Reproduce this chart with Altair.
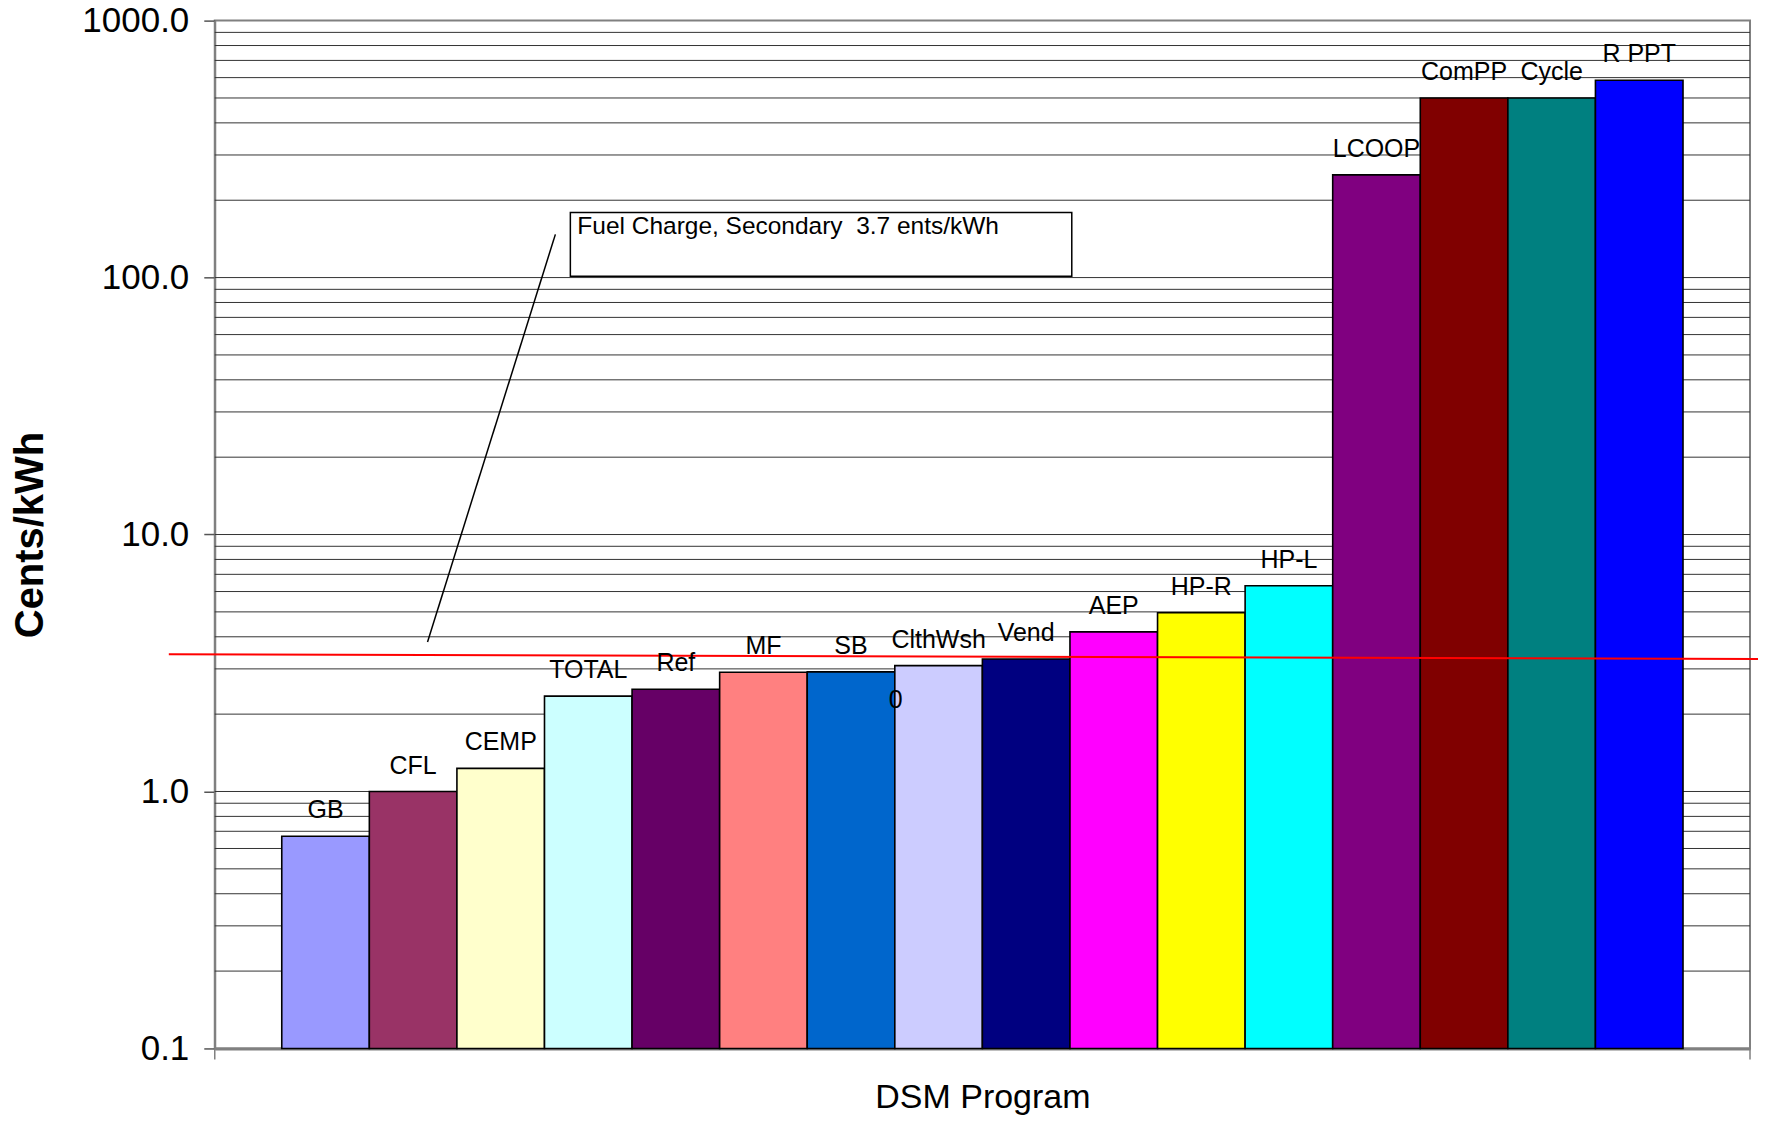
import altair as alt
import pandas as pd

# ---- data ----
programs = ["GB", "CFL", "CEMP", "TOTAL", "Ref", "MF", "SB", "ClthWsh", "Vend",
            "AEP", "HP-R", "HP-L", "LCOOP", "ComPP", "Cycle", "R PPT"]
values = [0.67, 1.0, 1.23, 2.35, 2.50, 2.91, 2.92, 3.09, 3.28,
          4.18, 4.96, 6.32, 251.0, 500.0, 500.0, 586.0]
colors = ["#9999FF", "#993366", "#FFFFCC", "#CCFFFF", "#660066", "#FF8080",
          "#0066CC", "#CCCCFF", "#000080", "#FF00FF", "#FFFF00", "#00FFFF",
          "#800080", "#800000", "#008080", "#0000FF"]

decade_ticks = [0.1, 1, 10, 100, 1000]
grid_values = [0.2, 0.3, 0.4, 0.5, 0.6, 0.7, 0.8, 0.9,
               1, 2, 3, 4, 5, 6, 7, 8, 9,
               10, 20, 30, 40, 50, 60, 70, 80, 90,
               100, 200, 300, 400, 500, 600, 700, 800, 900]

fuel_line = [3.42, 3.28]          # red reference line (left end, right end)
annotation_text = "Fuel Charge, Secondary \u00a03.7 ents/kWh"
stray_label = ["0"]
stray_program = ["ClthWsh"]
stray_value = [2.27]

FONT = "Liberation Sans"
W, H = 1537, 1029

df = pd.DataFrame({"program": programs, "value": values})
grid_df = pd.DataFrame({"g": grid_values})
stray_df = pd.DataFrame({"program": stray_program, "value": stray_value, "t": stray_label})

yscale = alt.Scale(type="log", domain=[0.1, 1000], nice=False)
xscale = alt.Scale(domain=programs, paddingInner=0, paddingOuter=0.765)

x_enc = alt.X("program:N", scale=xscale, sort=programs,
              axis=alt.Axis(labels=False, ticks=False, domainColor="#808080",
                            domainWidth=3, title="DSM Program", titleFontSize=34,
                            titleFontWeight="normal", titleFont=FONT,
                            titleBaseline="alphabetic", titleY=59, titleColor="black"))
y_enc = alt.Y("value:Q", scale=yscale,
              axis=alt.Axis(values=decade_ticks, format=".1f", tickSize=11,
                            tickColor="#555555", tickWidth=1.5,
                            labelPadding=15, labelFontSize=35, labelFont=FONT,
                            labelColor="black", domainColor="#808080", domainWidth=2,
                            grid=False, title="Cents/kWh", titleFontSize=40,
                            titleFont=FONT, titleFontWeight="bold", titleAngle=270,
                            titleBaseline="alphabetic", titleX=-172, titleY=H / 2,
                            titleAlign="center", titleColor="black"))

grid = alt.Chart(grid_df).mark_rule(color="#333333", strokeWidth=1).encode(
    y=alt.Y("g:Q", scale=yscale)
)

bars = alt.Chart(df).mark_bar(stroke="black", strokeWidth=1.6).encode(
    x=x_enc,
    y=y_enc,
    y2=alt.datum(0.1),
    color=alt.Color("program:N", scale=alt.Scale(domain=programs, range=colors), legend=None),
)

labels = alt.Chart(df).mark_text(font=FONT, fontSize=25, baseline="alphabetic",
                                 dy=-18, color="black").encode(
    x=alt.X("program:N", scale=xscale, sort=programs),
    y=alt.Y("value:Q", scale=yscale),
    text="program:N",
)

stray = alt.Chart(stray_df).mark_text(font=FONT, fontSize=25, baseline="middle",
                                      dx=-43, color="black").encode(
    x=alt.X("program:N", scale=xscale, sort=programs),
    y=alt.Y("value:Q", scale=yscale),
    text="t:N",
)

red = alt.Chart(pd.DataFrame({"a": [0]})).mark_rule(color="#FF0000", strokeWidth=2).encode(
    x=alt.value(-46), x2=alt.value(1545),
    y=alt.datum(fuel_line[0], scale=yscale), y2=alt.datum(fuel_line[1]),
)

leader = alt.Chart(pd.DataFrame({"a": [0]})).mark_rule(color="black", strokeWidth=1.5).encode(
    x=alt.value(213), x2=alt.value(341), y=alt.value(622), y2=alt.value(214),
)

box = alt.Chart(pd.DataFrame({"a": [0]})).mark_rect(fill="white", stroke="black",
                                                      strokeWidth=1.5).encode(
    x=alt.value(356), x2=alt.value(858), y=alt.value(192), y2=alt.value(256),
)

box_text = alt.Chart(pd.DataFrame({"a": [0]})).mark_text(
    font=FONT, fontSize=24.5, align="left", baseline="alphabetic", color="black",
    text=annotation_text).encode(x=alt.value(363), y=alt.value(214))

xticks = alt.Chart(pd.DataFrame({"a": [0]})).mark_rule(color="#808080", strokeWidth=1.5).encode(
    x=alt.value(0), y=alt.value(H), y2=alt.value(H + 11))
xticks2 = alt.Chart(pd.DataFrame({"a": [0]})).mark_rule(color="#808080", strokeWidth=1.5).encode(
    x=alt.value(W), y=alt.value(H), y2=alt.value(H + 11))

chart = alt.layer(grid, bars, red, labels, stray, leader, box, box_text, xticks, xticks2).properties(
    width=W, height=H,
    autosize=alt.AutoSizeParams(type="none"),
    padding={"left": 207, "top": 12, "right": 8, "bottom": 66},
    background="white",
).configure_view(stroke="#808080", strokeWidth=2)

chart.save("out.html", embed_options={"renderer": "svg", "actions": False})
